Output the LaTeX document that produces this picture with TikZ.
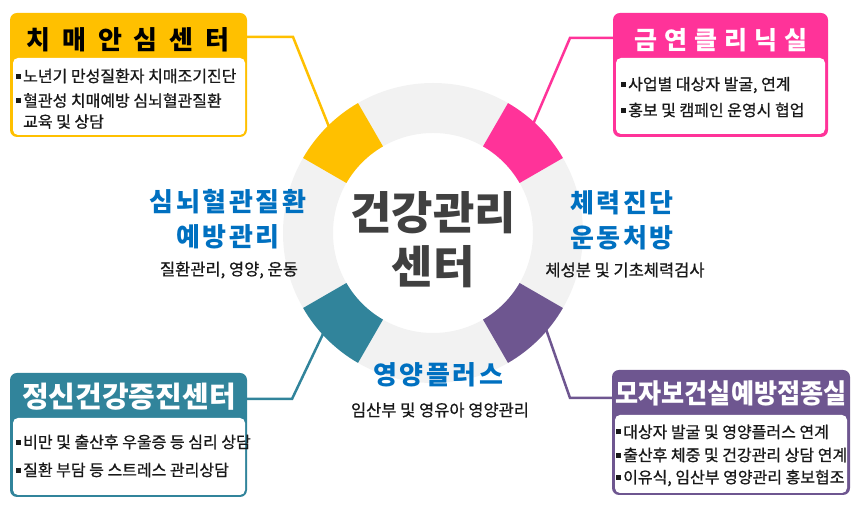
\documentclass[tikz,border=0pt]{standalone}
\usepackage{fontspec}
\setmainfont{Noto Sans CJK KR}
\usepackage{graphicx}
\usepackage{tikz}
\usetikzlibrary{calc}

\definecolor{dementia}{HTML}{FFC000}
\definecolor{smoking}{HTML}{FF3399}
\definecolor{mental}{HTML}{31849B}
\definecolor{maternal}{HTML}{6E5690}
\definecolor{ringgray}{HTML}{F2F2F2}
\definecolor{hubtext}{HTML}{404040}
\definecolor{topicblue}{HTML}{0070C0}

\newcommand{\bul}{\rule[3.5pt]{5pt}{5pt}\hspace{2pt}}
\newcommand{\wide}[2]{{\spaceskip=#1 #2}}

\begin{document}
\begin{tikzpicture}[x=1pt, y=1pt,
    panel/.style={rounded corners=7pt, inner sep=0pt},
    body/.style={fill=white, rounded corners=5pt, inner sep=0pt},
    title/.style={inner sep=0pt, font=\bfseries\fontsize{#1}{30}\selectfont},
    item/.style={anchor=west, inner sep=0pt, align=left, text=black!90, font=\fontsize{16}{21}\selectfont\addfontfeature{FakeBold=0.8}},
    topic/.style={inner sep=0pt, align=center, text=topicblue, font=\bfseries\fontsize{26}{35}\selectfont\addfontfeature{LetterSpace=10}},
    note/.style={inner sep=0pt, text=black!90, font=\fontsize{16.5}{18}\selectfont\addfontfeature{FakeBold=0.8}},
    link/.style={line width=2.5pt}]
    \useasboundingbox (0,0) rectangle (860,505);

    % Ring with the four coloured sectors
    \coordinate (c) at (433,272);
    \fill[ringgray, even odd rule] (c) circle (150) (c) circle (100);

    \coordinate (dseg) at ($(c)+(135:145)$);
    \coordinate (sseg) at ($(c)+(47:145)$);
    \coordinate (mseg) at ($(c)+(221:140)$);
    \coordinate (pseg) at ($(c)+(-37:135)$);

    % Dementia centre (top left)
    \node[panel, fill=dementia, minimum width=237, minimum height=124] (dbox) at (128.5,430) {};
    \node[body, minimum width=232, minimum height=77] (dbody) at (129,408.5) {};
    \node[title=26, text=black] (dtitle) at (128,465) {\wide{12pt}{치 매 안 심 센 터}};
    \node[item] (d1) at (16,429) {\bul 노년기 만성질환자 치매조기진단};
    \node[item, anchor=north west] (d2) at (16,412) {\bul 혈관성 치매예방 심뇌혈관질환\\\phantom{\bul}교육 및 상담};
    \coordinate (dbend) at (293,468);
    \draw[link, dementia] (dbox.east |- dbend) -- (dbend) -- (dseg);

    % Smoking cessation clinic (top right)
    \node[panel, fill=smoking, minimum width=215, minimum height=124] (sbox) at (720.5,430) {};
    \node[body, minimum width=209, minimum height=76] (sbody) at (720.5,409) {};
    \node[title=25, text=white] (stitle) at (721,465) {\wide{7pt}{금 연 클 리 닉 실}};
    \node[item] (s1) at (621,420) {\bul 사업별 대상자 발굴, 연계};
    \node[item] (s2) at (621,395) {\bul 홍보 및 캠페인 운영시 협업};
    \coordinate (sbend) at (570,467);
    \draw[link, smoking] (sbox.west |- sbend) -- (sbend) -- (sseg);

    % Mental health centre (bottom left)
    \node[panel, fill=mental, minimum width=237, minimum height=124] (mbox) at (128.5,70) {};
    \node[body, minimum width=232, minimum height=77] (mbody) at (129,48.5) {};
    \node[title=29, text=white] (mtitle) at (129,108) {정신건강증진센터};
    \node[item] (m1) at (16,63) {\bul 비만 및 출산후 우울증 등 심리 상담};
    \node[item] (m2) at (16,35) {\bul 질환 부담 등 스트레스 관리상담};
    \coordinate (mbend) at (292,106);
    \draw[link, mental] (mbox.east |- mbend) -- (mbend) -- (mseg);

    % Maternal health and vaccination (bottom right)
    \node[panel, fill=maternal, minimum width=238, minimum height=125] (pbox) at (731,72.5) {};
    \node[body, minimum width=232, minimum height=78] (pbody) at (731,51) {};
    \node[title=27, text=white] (ptitle) at (731,112) {\scalebox{0.93}[1]{모자보건실예방접종실}};
    \node[item] (p1) at (616,73) {\bul 대상자 발굴 및 영양플러스 연계};
    \node[item] (p2) at (616,50) {\bul 출산후 체중 및 건강관리 상담 연계};
    \node[item] (p3) at (616,27) {\bul 이유식, 임산부 영양관리 홍보협조};
    \coordinate (pbend) at (570,107);
    \draw[link, maternal] (pbox.west |- pbend) -- (pbend) -- (pseg);

    % sectors drawn over the line ends
    \fill[dementia] ($(c)+(120:150)$) arc[start angle=120, end angle=150, radius=150] -- ($(c)+(150:100)$) arc[start angle=150, end angle=120, radius=100] -- cycle;
    \fill[smoking] ($(c)+(30:150)$) arc[start angle=30, end angle=60, radius=150] -- ($(c)+(60:100)$) arc[start angle=60, end angle=30, radius=100] -- cycle;
    \fill[mental] ($(c)+(210:150)$) arc[start angle=210, end angle=240, radius=150] -- ($(c)+(240:100)$) arc[start angle=240, end angle=210, radius=100] -- cycle;
    \fill[maternal] ($(c)+(-60:150)$) arc[start angle=-60, end angle=-30, radius=150] -- ($(c)+(-30:100)$) arc[start angle=-30, end angle=-60, radius=100] -- cycle;

    % Hub text
    \node[align=center, inner sep=0pt, text=hubtext, font=\bfseries\fontsize{45}{54}\selectfont] (hub) at (433,265) {건강관리\\센터};

    % Programme labels around the ring
    \node[topic] (cardio) at (228,286) {심뇌혈관질환\\예방관리};
    \node[note] (cardionote) at (229,235) {질환관리, 영양, 운동};
    \node[topic] (fitness) at (622,285) {체력진단\\운동처방};
    \node[note] (fitnessnote) at (625,235) {체성분 및 기초체력검사};
    \node[topic] (nutrition) at (438,130) {영양플러스};
    \node[note] (nutritionnote) at (440,95) {임산부 및 영유아 영양관리};
\end{tikzpicture}
\end{document}
